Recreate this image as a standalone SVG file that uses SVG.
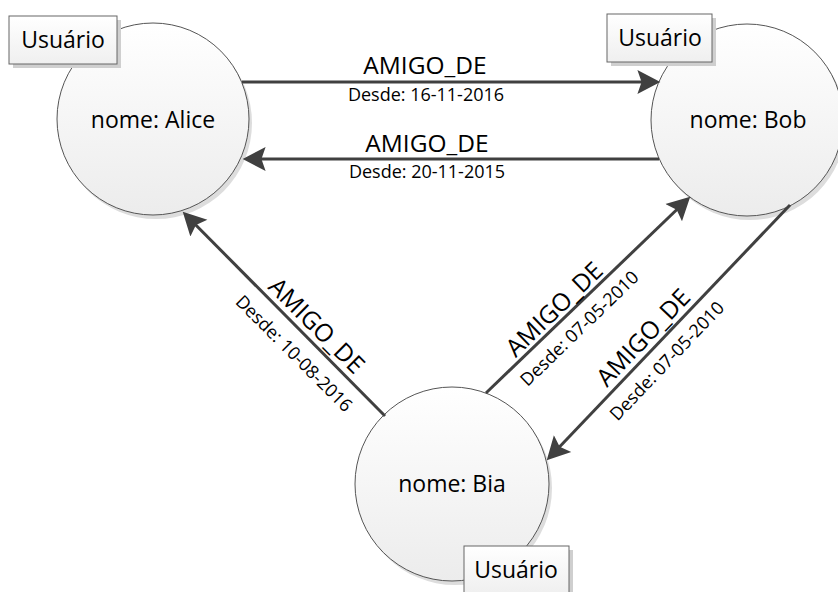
<svg xmlns="http://www.w3.org/2000/svg" width="838" height="592" viewBox="0 0 838 592">
<defs>
<linearGradient id="gc" x1="0" y1="0" x2="0" y2="1">
<stop offset="0" stop-color="#ffffff"/>
<stop offset="1" stop-color="#ececec"/>
</linearGradient>
<linearGradient id="gb" x1="0" y1="0" x2="0" y2="1">
<stop offset="0" stop-color="#ffffff"/>
<stop offset="1" stop-color="#efefef"/>
</linearGradient>
<marker id="ah" markerUnits="userSpaceOnUse" markerWidth="24" markerHeight="26" viewBox="0 -12 23 24" refX="14" refY="0" orient="auto">
<path d="M0,-11.5 L22,0 L0,11.5 L4,0 Z" fill="#404040"/>
</marker>
</defs>
<style>
.circ{fill:url(#gc);stroke:#555;stroke-width:1}
.shc{fill:#dddddd}
.box{fill:url(#gb);stroke:#666;stroke-width:1}
.shb{fill:#cfcfcf}
.conn{stroke:#404040;stroke-width:3;fill:none;marker-end:url(#ah)}
.t{font-family:"Open Sans","Liberation Sans",sans-serif;fill:#000;text-anchor:middle}
.big{font-size:23px}
.lbl{font-size:24.5px}
.sm{font-size:18px}
</style>
<rect width="838" height="592" fill="#fff"/>
<g id="alice">
<circle class="shc" cx="156" cy="123" r="96"/>
<circle class="circ" cx="153" cy="119" r="96"/>
<text class="t big" x="153" y="128">nome: Alice</text>
<rect class="shb" x="13" y="20" width="108" height="48"/>
<rect class="box" x="9" y="16" width="108" height="48"/>
<text class="t big" x="63" y="48">Usuário</text>
</g>
<g id="bob">
<circle class="shc" cx="750" cy="124" r="96"/>
<circle class="circ" cx="747" cy="120" r="96"/>
<text class="t big" x="748" y="128">nome: Bob</text>
<rect class="shb" x="611" y="18" width="105" height="48"/>
<rect class="box" x="607" y="14" width="105" height="48"/>
<text class="t big" x="660" y="46">Usuário</text>
</g>
<g id="bia">
<circle class="shc" cx="455" cy="488" r="97"/>
<circle class="circ" cx="452" cy="484" r="97"/>
<text class="t big" x="452" y="492">nome: Bia</text>
<rect class="shb" x="468" y="550" width="105" height="48"/>
<rect class="box" x="464" y="546" width="105" height="48"/>
<text class="t big" x="516" y="578">Usuário</text>
</g>
<g id="connectors">
<line class="conn" x1="242" y1="82" x2="652" y2="82"/>
<line class="conn" x1="659" y1="159" x2="251" y2="159"/>
<line class="conn" x1="385" y1="416" x2="188.6" y2="217.7"/>
<line class="conn" x1="486" y1="393" x2="684.2" y2="202.5"/>
<line class="conn" x1="790" y1="205" x2="552.5" y2="454.2"/>
<text class="t lbl" x="425" y="74">AMIGO_DE</text>
<text class="t sm" x="426" y="101">Desde: 16-11-2016</text>
<text class="t lbl" x="427" y="152">AMIGO_DE</text>
<text class="t sm" x="427" y="178">Desde: 20-11-2015</text>
<text class="t lbl" transform="translate(316.7,325.7) rotate(45)" y="8.5">AMIGO_DE</text>
<text class="t sm" transform="translate(294.2,353.3) rotate(45)" y="6.5">Desde: 10-08-2016</text>
<text class="t lbl" transform="translate(554.2,309.2) rotate(-44)" y="8.5">AMIGO_DE</text>
<text class="t sm" transform="translate(579.2,328.3) rotate(-44)" y="6.5">Desde: 07-05-2010</text>
<text class="t lbl" transform="translate(643.3,337.5) rotate(-46.4)" y="8.5">AMIGO_DE</text>
<text class="t sm" transform="translate(666.7,360.8) rotate(-46.4)" y="6.5">Desde: 07-05-2010</text>
</g>
</svg>
